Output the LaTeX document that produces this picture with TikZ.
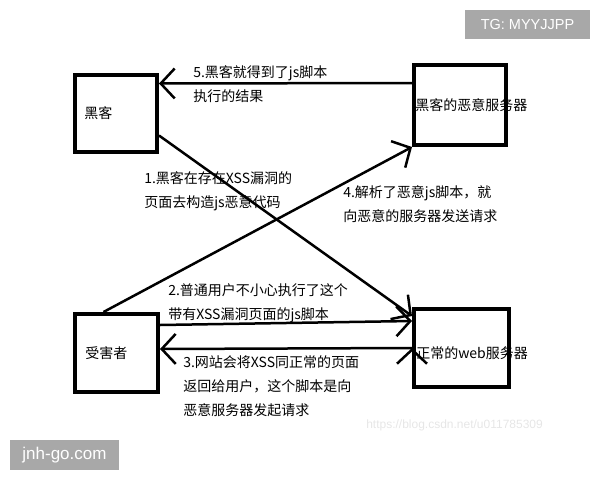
\documentclass[tikz,border=0pt]{standalone}
\usepackage{fontspec}
\setmainfont{Noto Sans CJK SC}
\newfontfamily\markfont{Liberation Sans}
\usetikzlibrary{positioning, arrows.meta}
\definecolor{markgray}{HTML}{A8A8A8}
\definecolor{faintgray}{HTML}{E6E6E6}
\tikzset{>={Straight Barb[length=14pt, width=30pt]}, % open heads, as drawn by hand
box/.style={draw, line width=4pt, inner sep=0pt}, % the four actors
tag/.style={inner sep=0pt, anchor=west, align=left, font=\fontsize{14}{24}\selectfont}, % step texts
badge/.style={fill=markgray, text=white, inner sep=0pt, font=\markfont}, % grey badges
}
\begin{document}
\begin{tikzpicture}[x=1pt, y=-1pt, line width=2.5pt]
\useasboundingbox (0,0) rectangle (600,480);

\node[box, minimum width=82pt, minimum height=77pt] (hk) at (116,113.5) {};
\node[box, minimum width=92pt, minimum height=80pt] (ms) at (460,105) {};
\node[box, minimum width=83pt, minimum height=78pt] (vc) at (116.5,353) {};
\node[box, minimum width=95pt, minimum height=78pt] (ws) at (461.5,348) {};

\node[tag] (hkt) at ([xshift=10pt]hk.west) {黑客};
\node[tag] (mst) at ([xshift=2pt]ms.west) {黑客的恶意服务器};
\node[tag] (vct) at ([xshift=11pt]vc.west) {受害者};
\node[tag] (wst) at ([xshift=3pt, yshift=-5pt]ws.west) {正常的web服务器};

\draw[->]
([yshift=-22pt]hk.east) edge ([yshift=-9pt]ws.north west)
([xshift=-13pt]vc.north) edge (ms.south west)
([yshift=22pt]ms.west) edge ([yshift=30pt]hk.east)
([yshift=28pt]vc.east) edge ([yshift=27pt]ws.west)
(ws.west) edge ([yshift=4pt]vc.east);

\node[tag] (s5) at (192,84.5) {5.黑客就得到了js脚本\\执行的结果};
\node[tag] (s1) at (143,191) {1.黑客在存在XSS漏洞的\\页面去构造js恶意代码};
\node[tag] (s4) at (342,204) {4.解析了恶意js脚本，就\\向恶意的服务器发送请求};
\node[tag] (s2) at (167,303.5) {2.普通用户不小心执行了这个\\带有XSS漏洞页面的js脚本};
\node[tag] (s3) at (182,386) {3.网站会将XSS同正常的页面\\返回给用户，这个脚本是向\\恶意服务器发起请求};

\node[anchor=west, inner sep=0pt, text=faintgray, font=\markfont\fontsize{12}{12}\selectfont] (url) at (365,425) {https://blog.csdn.net/u011785309};
\node[badge, minimum width=125pt, minimum height=29pt, font=\markfont\fontsize{14.5}{14.5}\selectfont] (tg) at (527.5,24.5) {TG: MYYJJPP};
\node[badge, minimum width=109pt, minimum height=30pt, font=\markfont\fontsize{17}{17}\selectfont] (jg) at (64.5,455) {jnh-go.com};
\end{tikzpicture}
\end{document}
